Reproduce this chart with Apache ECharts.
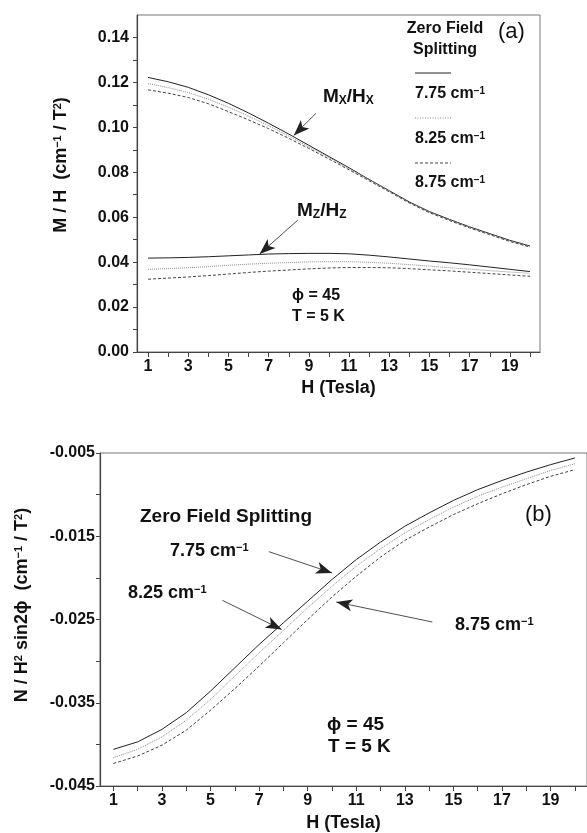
<!DOCTYPE html>
<html>
<head>
<meta charset="utf-8">
<script src="https://cdn.jsdelivr.net/npm/echarts@6/dist/echarts.min.js"></script>
<style>
html, body { margin: 0; padding: 0; background: #fff; }
#main { width: 587px; height: 833px; }
</style>
</head>
<body>
<div id="main"></div>
<script>
// field values (Tesla) and tick labels
const fields = [1, 2, 3, 4, 5, 6, 7, 8, 9, 10, 11, 12, 13, 14, 15, 16, 17, 18, 19, 20];
const fieldLabels = [1, 3, 5, 7, 9, 11, 13, 15, 17, 19];
const splits = ['7.75', '8.25', '8.75'];

// (a) M/H, x direction
const mx775 = [0.1222, 0.1203, 0.1178, 0.1145, 0.1107, 0.1064, 0.1018, 0.0970, 0.0920, 0.0870, 0.0820, 0.0768, 0.0718, 0.0668, 0.0625, 0.0590, 0.0557, 0.0527, 0.0497, 0.0472];
const mx825 = [0.1195, 0.1177, 0.1155, 0.1125, 0.1090, 0.1050, 0.1007, 0.0961, 0.0913, 0.0865, 0.0816, 0.0766, 0.0716, 0.0666, 0.0623, 0.0588, 0.0555, 0.0525, 0.0495, 0.0470];
const mx875 = [0.1167, 0.1152, 0.1133, 0.1105, 0.1070, 0.1033, 0.0994, 0.0951, 0.0906, 0.0859, 0.0811, 0.0762, 0.0713, 0.0663, 0.0620, 0.0585, 0.0552, 0.0522, 0.0492, 0.0467];
// (a) M/H, z direction
const mz775 = [0.0418, 0.0419, 0.0421, 0.0424, 0.0428, 0.0432, 0.0436, 0.0438, 0.0439, 0.0439, 0.0437, 0.0431, 0.0423, 0.0414, 0.0405, 0.0397, 0.0388, 0.0378, 0.0368, 0.0358];
const mz825 = [0.0368, 0.0371, 0.0375, 0.0380, 0.0386, 0.0391, 0.0395, 0.0398, 0.0401, 0.0402, 0.0402, 0.0399, 0.0395, 0.0389, 0.0382, 0.0375, 0.0369, 0.0362, 0.0356, 0.0350];
const mz875 = [0.0324, 0.0329, 0.0334, 0.0340, 0.0347, 0.0354, 0.0360, 0.0365, 0.0370, 0.0374, 0.0376, 0.0376, 0.0375, 0.0371, 0.0366, 0.0361, 0.0355, 0.0349, 0.0343, 0.0337];
// (b) N / H^2 sin2phi
const n775 = [-0.0406, -0.0397, -0.0382, -0.0362, -0.0336, -0.0308, -0.0280, -0.0254, -0.0228, -0.0202, -0.0178, -0.0157, -0.0138, -0.0122, -0.0107, -0.0094, -0.0083, -0.0073, -0.0064, -0.0056];
const n825 = [-0.0416, -0.0406, -0.0391, -0.0371, -0.0346, -0.0318, -0.0290, -0.0263, -0.0236, -0.0210, -0.0186, -0.0165, -0.0146, -0.0130, -0.0115, -0.0102, -0.0091, -0.0081, -0.0071, -0.0063];
const n875 = [-0.0423, -0.0414, -0.0401, -0.0383, -0.0359, -0.0333, -0.0306, -0.0278, -0.0250, -0.0223, -0.0198, -0.0175, -0.0155, -0.0139, -0.0124, -0.0111, -0.0099, -0.0088, -0.0078, -0.0070];

// axis ticks / labels
const ticksA = [0, 0.01, 0.02, 0.03, 0.04, 0.05, 0.06, 0.07, 0.08, 0.09, 0.10, 0.11, 0.12, 0.13, 0.14];
const labelsA = [0, 0.02, 0.04, 0.06, 0.08, 0.10, 0.12, 0.14];
const ticksB = [-0.045, -0.04, -0.035, -0.03, -0.025, -0.02, -0.015, -0.01, -0.005];
const labelsB = [-0.045, -0.035, -0.025, -0.015, -0.005];

const FONT = 'Liberation Sans, Arial, sans-serif';
const styles = [
    { color: '#222', type: 'solid' },
    { color: '#8c8c8c', type: 'dotted' },
    { color: '#444', type: [3, 2] }
];

function pairs(vals) {
    return fields.map((h, i) => [h, vals[i]]);
}

function xAxisFor(grid, gap) {
    return {
        type: 'value', gridIndex: grid, min: 0.45, max: 20.5,
        name: 'H (Tesla)', nameLocation: 'middle', nameGap: gap,
        nameTextStyle: { fontFamily: FONT, fontWeight: 'bold', fontSize: 18, color: '#111' },
        axisLine: { show: true, onZero: false, lineStyle: { color: '#444', width: 1.2 } },
        axisTick: { show: true, customValues: fields, length: 5, lineStyle: { color: '#444' } },
        axisLabel: { customValues: fieldLabels, fontFamily: FONT, fontWeight: 'bold', fontSize: 16, color: '#111', margin: 7 },
        splitLine: { show: false }
    };
}

function line(name, vals, k, xi, yi, extra) {
    const s = {
        name: name, type: 'line', xAxisIndex: xi, yAxisIndex: yi,
        data: pairs(vals), showSymbol: false, silent: true,
        lineStyle: { color: styles[k].color, type: styles[k].type, width: 1 }
    };
    return Object.assign(s, extra || {});
}

function arrows(list) {
    return {
        markLine: {
            silent: true, animation: false,
            symbol: ['none', 'arrow'], symbolSize: [9, 16],
            label: { show: false },
            lineStyle: { color: '#222', type: 'solid', width: 0.8 },
            data: list.map(a => [{ coord: a[0] }, { coord: a[1] }])
        }
    };
}

function sup(main, s, size) {
    return {
        text: '{a|' + main + '}{s|' + s + '}',
        rich: {
            a: { fontFamily: FONT, fontWeight: 'bold', fontSize: size, fill: '#111' },
            s: { fontFamily: FONT, fontWeight: 'bold', fontSize: Math.round(size * 0.62), fill: '#111', verticalAlign: 'top' }
        }
    };
}

function txt(x, y, style, rot) {
    return {
        type: 'text', x: x, y: y, rotation: rot || 0, silent: true,
        style: Object.assign({ align: 'left', verticalAlign: 'middle' }, style)
    };
}

function plain(x, y, s, size, weight) {
    return txt(x, y, { text: s, fontFamily: FONT, fontWeight: weight || 'bold', fontSize: size, fill: '#111' });
}

const chart = echarts.init(document.getElementById('main'), null, { renderer: 'canvas' });

const legendLines = [73, 118, 163].map((y, k) => ({
    type: 'line', silent: true,
    shape: { x1: 415, y1: y, x2: 451, y2: y },
    style: { stroke: styles[k].color, lineWidth: 1, lineDash: k === 0 ? null : (k === 1 ? [1, 1.5] : [3, 2]) }
}));
const legendText = [94, 139, 183].map((y, k) => txt(415, y, sup(splits[k] + ' cm', '−1', 16)));

const subRich = {
    a: { fontFamily: FONT, fontWeight: 'bold', fontSize: 19, fill: '#111' },
    b: { fontFamily: FONT, fontWeight: 'bold', fontSize: 12, fill: '#111', verticalAlign: 'bottom' }
};
const supRich = {
    a: { fontFamily: FONT, fontWeight: 'bold', fontSize: 18, fill: '#111' },
    s: { fontFamily: FONT, fontWeight: 'bold', fontSize: 11, fill: '#111', verticalAlign: 'top' }
};

const option = {
    animation: false,
    backgroundColor: '#fff',
    grid: [
        { left: 137, top: 15, right: 47, bottom: 481, show: true, borderColor: '#777', borderWidth: 1 },
        { left: 100, top: 453, right: -2, bottom: 47, show: true, borderColor: '#777', borderWidth: 1 }
    ],
    xAxis: [xAxisFor(0, 27), xAxisFor(1, 28)],
    yAxis: [
        {
            type: 'value', gridIndex: 0, min: 0, max: 0.15,
            axisLine: { show: true, lineStyle: { color: '#444', width: 1.2 } },
            axisTick: { show: true, customValues: ticksA, length: 4, lineStyle: { color: '#444' } },
            axisLabel: { customValues: labelsA, formatter: v => v.toFixed(2), fontFamily: FONT, fontWeight: 'bold', fontSize: 16, color: '#111', margin: 8 },
            splitLine: { show: false }
        },
        {
            type: 'value', gridIndex: 1, min: -0.045, max: -0.005,
            axisLine: { show: true, lineStyle: { color: '#444', width: 1.2 } },
            axisTick: { show: true, customValues: ticksB, length: 4, lineStyle: { color: '#444' } },
            axisLabel: { customValues: labelsB, formatter: v => v.toFixed(3), fontFamily: FONT, fontWeight: 'bold', fontSize: 16, color: '#111', margin: 5 },
            splitLine: { show: false }
        }
    ],
    series: [
        line('Mx 7.75', mx775, 0, 0, 0, arrows([[[9.35, 0.1062], [8.25, 0.0964]]])),
        line('Mx 8.25', mx825, 1, 0, 0),
        line('Mx 8.75', mx875, 2, 0, 0),
        line('Mz 7.75', mz775, 0, 0, 0, arrows([[[8.45, 0.0587], [6.55, 0.0436]]])),
        line('Mz 8.25', mz825, 1, 0, 0),
        line('Mz 8.75', mz875, 2, 0, 0),
        line('N 7.75', n775, 0, 1, 1, arrows([
            [[7.4, -0.01685], [10.0, -0.0194]],
            [[5.49, -0.0227], [7.93, -0.0262]],
            [[14.13, -0.0253], [10.18, -0.0229]]
        ])),
        line('N 8.25', n825, 1, 1, 1),
        line('N 8.75', n875, 2, 1, 1)
    ],
    graphic: [
        // panel (a)
        txt(445, 29, { text: 'Zero Field', align: 'center', fontFamily: FONT, fontWeight: 'bold', fontSize: 16, fill: '#111' }),
        txt(445, 50, { text: 'Splitting', align: 'center', fontFamily: FONT, fontWeight: 'bold', fontSize: 16, fill: '#111' }),
        plain(498, 32, '(a)', 22, 'normal'),
        ...legendLines,
        ...legendText,
        txt(323, 97, { text: '{a|M}{b|X}{a|/H}{b|X}', rich: subRich }),
        txt(297, 211, { text: '{a|M}{b|Z}{a|/H}{b|Z}', rich: subRich }),
        plain(292, 296, 'ϕ = 45', 16),
        plain(292, 317, 'T = 5 K', 16),
        txt(61, 165, { text: '{a|M / H  (cm}{s|−1}{a| / T}{s|2}{a|)}', rich: supRich, align: 'center' }, Math.PI / 2),
        // panel (b)
        plain(140, 517, 'Zero Field Splitting', 19),
        txt(170, 551, sup('7.75 cm', '−1', 18)),
        txt(128, 593, sup('8.25 cm', '−1', 18)),
        txt(455, 625, sup('8.75 cm', '−1', 18)),
        plain(525, 515, '(b)', 22, 'normal'),
        plain(327, 725, 'ϕ = 45', 19),
        plain(328, 747, 'T = 5 K', 19),
        txt(22, 605, { text: '{a|N / H}{s|2}{a| sin2ϕ  (cm}{s|−1}{a| / T}{s|2}{a|)}', rich: supRich, align: 'center' }, Math.PI / 2)
    ]
};

chart.setOption(option);
</script>
</body>
</html>
